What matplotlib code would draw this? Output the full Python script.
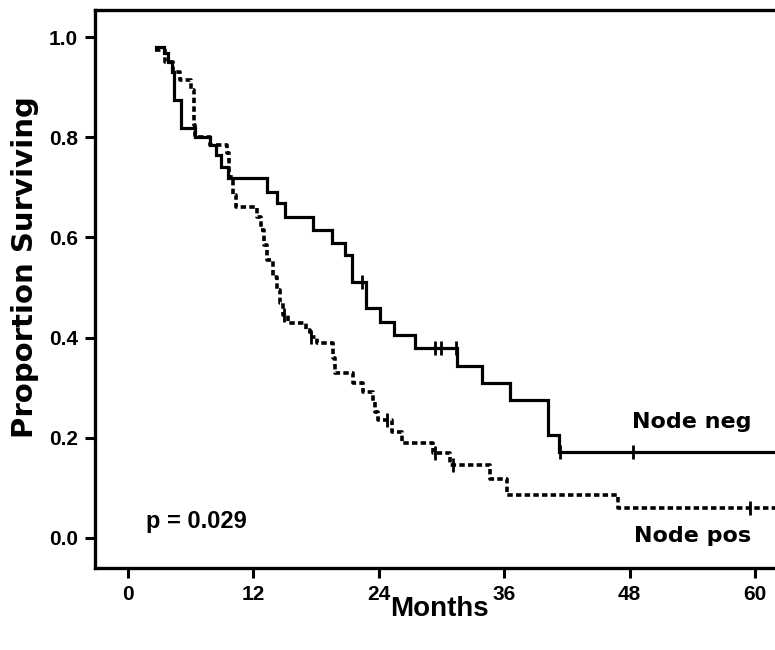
import numpy as np
import matplotlib
matplotlib.use("Agg")
import matplotlib.pyplot as plt

# Kaplan-Meier Kurven
neg_t = [2.7, 3.4, 3.8, 4.2, 4.4, 5.1, 6.4, 7.8, 8.4, 8.9, 9.6, 13.3, 14.3, 15.0, 17.7,
         19.5, 20.8, 21.4, 22.8, 24.1, 25.4, 27.5, 31.5, 33.9, 36.5, 40.2, 41.2]
neg_s = [0.98, 0.968, 0.95, 0.93, 0.874, 0.818, 0.80, 0.785, 0.765, 0.74, 0.719, 0.691,
         0.669, 0.641, 0.615, 0.589, 0.565, 0.511, 0.459, 0.431, 0.405, 0.379, 0.343,
         0.309, 0.275, 0.206, 0.172]
neg_cens = [22.4, 29.4, 29.9, 31.4, 41.3, 48.3]

pos_t = [2.6, 3.5, 4.3, 5.0, 6.0, 6.3, 6.4, 7.8, 9.5, 9.7, 10.0, 10.3, 12.3, 12.7, 13.0,
         13.3, 13.9, 14.3, 14.5, 14.8, 15.3, 17.0, 17.4, 18.1, 19.6, 19.8, 21.5, 22.5,
         23.4, 23.6, 23.9, 25.3, 26.2, 29.2, 30.8, 34.6, 36.3, 46.9]
pos_s = [0.974, 0.95, 0.93, 0.914, 0.894, 0.824, 0.80, 0.785, 0.768, 0.72, 0.685, 0.661,
         0.641, 0.615, 0.585, 0.555, 0.521, 0.495, 0.469, 0.445, 0.429, 0.415, 0.401,
         0.389, 0.359, 0.329, 0.309, 0.291, 0.271, 0.251, 0.236, 0.212, 0.19, 0.17,
         0.146, 0.118, 0.086, 0.06]
pos_cens = [14.9, 17.5, 24.8, 29.4, 31.1, 59.5]

x_ticks = [0, 12, 24, 36, 48, 60]
y_ticks = [0.0, 0.2, 0.4, 0.6, 0.8, 1.0]
x_end = 62.5


def km_wert(t, s, tc):
    # Wert der Stufenfunktion zum Zeitpunkt tc
    i = np.searchsorted(t, tc, side="right") - 1
    return np.array(s)[i]


fig = plt.figure(figsize=(7.75, 6.5), dpi=100)
ax = fig.add_axes([95 / 775, 82 / 650, 1 - 95 / 775, 558 / 650])

# Node neg - durchgezogen
ax.step(neg_t + [x_end], neg_s + [neg_s[-1]], where="post", color="black", lw=2.3,
        solid_joinstyle="miter")
ax.plot(neg_cens, km_wert(neg_t, neg_s, neg_cens), ls="none", marker="|",
        ms=10, mew=2, color="black")

# Node pos - gepunktet
ax.step(pos_t + [x_end], pos_s + [pos_s[-1]], where="post", color="black", lw=2.6,
        linestyle=(0, (1.5, 0.9)), dash_capstyle="butt")
ax.plot(pos_cens, km_wert(pos_t, pos_s, pos_cens), ls="none", marker="|",
        ms=10, mew=2, color="black")

ax.set_xlim(-3.16, 61.9)
ax.set_ylim(-0.06, 1.054)
ax.set_xticks(x_ticks)
ax.set_yticks(y_ticks)
ax.set_xticklabels([str(v) for v in x_ticks], family="Liberation Sans", fontweight="bold", fontsize=15)
ax.set_yticklabels(["%.1f" % v for v in y_ticks], family="Liberation Sans", fontweight="bold", fontsize=15)
ax.tick_params(direction="out", length=7.5, width=2.2, pad=5)

ax.spines["right"].set_visible(False)
for s in ["left", "bottom", "top"]:
    ax.spines[s].set_linewidth(2.4)

ax.set_xlabel("Months", family="Liberation Sans", fontweight="bold", fontsize=20)
ax.xaxis.set_label_coords(0.507, -0.05)
ax.set_ylabel("Proportion Surviving", family="DejaVu Sans", fontweight="bold", fontsize=21)
ax.yaxis.set_label_coords(-0.083, 0.54)

ax.text(48.2, 0.22, "Node neg", fontsize=16, fontweight="bold", family="DejaVu Sans")
ax.text(48.4, -0.008, "Node pos", fontsize=16, fontweight="bold", family="DejaVu Sans")
ax.text(1.7, 0.019, "p = 0.029", fontsize=17, fontweight="bold", family="Liberation Sans")

plt.savefig("out.png", dpi=100)
